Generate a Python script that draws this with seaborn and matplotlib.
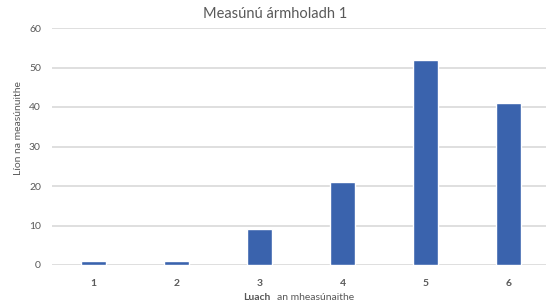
import matplotlib
matplotlib.use("Agg")
import matplotlib.pyplot as plt
import seaborn as sns
import pandas as pd

categories = ["1", "2", "3", "4", "5", "6"]
counts = [1, 1, 9, 21, 52, 41]
yticks = [0, 10, 20, 30, 40, 50, 60]

title = "Measúnú ármholadh 1"
ylabel = "Líon na measúnuithe"
xlabel_bold = "Luach"
xlabel_rest = "an mheasúnaithe"

df = pd.DataFrame({"value": categories, "count": counts})

sns.set_theme(style="white")
plt.rcParams["font.family"] = ["Lato", "DejaVu Sans"]

W, H = 546, 305
fig = plt.figure(figsize=(W / 100, H / 100), dpi=100)
ax = fig.add_axes([52 / W, 1 - 265 / H, 498 / W, (265 - 28) / H])

sns.barplot(data=df, x="value", y="count", color="#3A63AD", width=0.31,
            saturation=1, ax=ax, zorder=3)

ax.set_ylim(0, 60)
ax.set_xlim(-0.5, 5.5)
ax.set_yticks(yticks)
ax.yaxis.grid(True, color="#D9D9D9", linewidth=1.2, zorder=0)
ax.set_axisbelow(True)
for s in ax.spines.values():
    s.set_visible(False)
ax.tick_params(axis="both", length=0, colors="#595959")
ax.tick_params(axis="y", pad=8, labelsize=7.5)
ax.tick_params(axis="x", pad=10, labelsize=7.5)
for lab in ax.get_xticklabels():
    lab.set_fontweight("bold")
ax.set_xlabel("")
ax.set_ylabel("")

fig.text(275 / W, 1 - 14 / H, title, ha="center", va="center",
         fontsize=10.5, color="#595959")
fig.text(19 / W, 1 - 128 / H, ylabel, ha="center", va="center",
         rotation=90, fontsize=7.5, color="#595959")
fig.text(270 / W, 1 - 297 / H, xlabel_bold, ha="right", va="center",
         fontsize=7.5, fontweight="bold", color="#595959")
fig.text(277 / W, 1 - 297 / H, xlabel_rest, ha="left", va="center",
         fontsize=7.5, color="#595959")

fig.savefig("out.png", dpi=100)
